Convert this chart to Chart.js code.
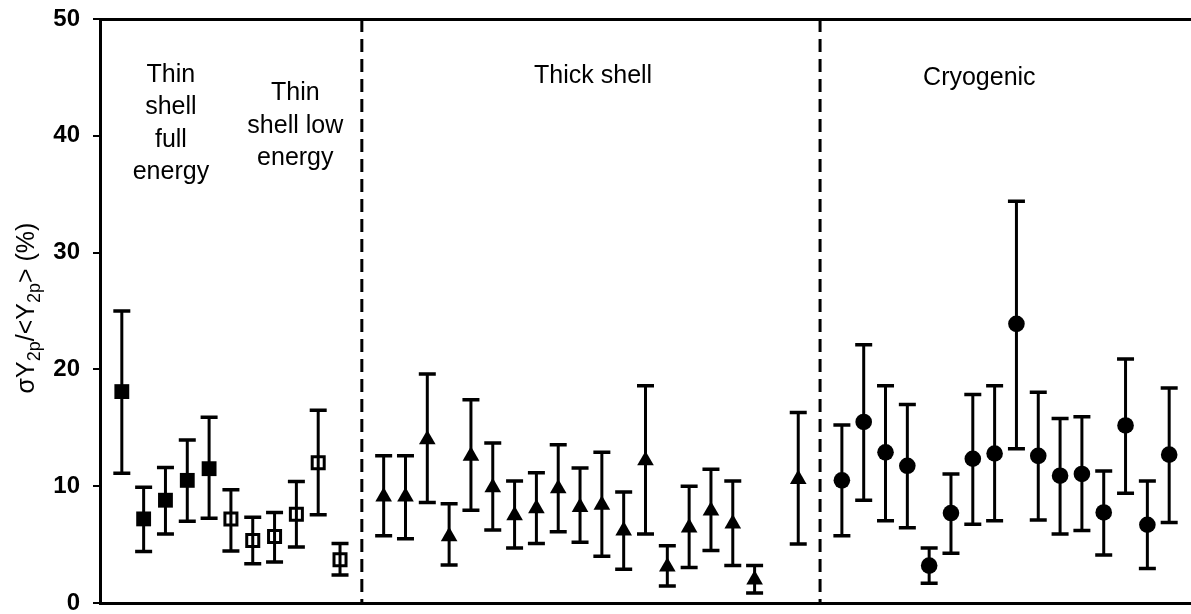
<!DOCTYPE html>
<html><head><meta charset="utf-8">
<script src="https://cdn.jsdelivr.net/npm/chart.js@4.4.1/dist/chart.umd.min.js"></script>
<style>html,body{margin:0;padding:0;background:#fff;overflow:hidden;} #wrap{width:1191px;height:614px;position:relative;}</style>
</head><body><div id="wrap"><canvas id="c" width="1191" height="614"></canvas></div>
<script>
// ---- data ----
const yTicks = [0, 10, 20, 30, 40, 50];

const thinFullX  = [1, 2, 3, 4, 5];
const thinFullY  = [18.1, 7.2, 8.8, 10.5, 11.5];
const thinFullLo = [11.1, 4.4, 5.9, 7.0, 7.25];
const thinFullHi = [25.0, 9.9, 11.6, 13.95, 15.9];

const thinLowX  = [6, 7, 8, 9, 10, 11];
const thinLowY  = [7.2, 5.35, 5.7, 7.6, 12.0, 3.7];
const thinLowLo = [4.45, 3.35, 3.5, 4.8, 7.55, 2.4];
const thinLowHi = [9.7, 7.35, 7.75, 10.4, 16.5, 5.1];

const thickX  = [13, 14, 15, 16, 17, 18, 19, 20, 21, 22, 23, 24, 25, 26, 27, 28, 29, 30, 32];
const thickY  = [9.1, 9.1, 14.0, 5.7, 12.6, 9.9, 7.5, 8.1, 9.8, 8.2, 8.4, 6.2, 12.2, 3.1, 6.45, 7.9, 6.8, 2.0, 10.6];
const thickLo = [5.75, 5.5, 8.6, 3.25, 7.95, 6.25, 4.7, 5.1, 6.1, 5.2, 4.0, 2.9, 5.9, 1.45, 3.05, 4.5, 3.2, 0.85, 5.05];
const thickHi = [12.6, 12.6, 19.6, 8.5, 17.4, 13.7, 10.45, 11.15, 13.55, 11.55, 12.9, 9.5, 18.6, 4.9, 10.0, 11.45, 10.45, 3.2, 16.3];

const cryoX  = [34, 35, 36, 37, 38, 39, 40, 41, 42, 43, 44, 45, 46, 47, 48, 49];
const cryoY  = [10.5, 15.5, 12.9, 11.75, 3.2, 7.7, 12.35, 12.8, 23.9, 12.6, 10.9, 11.05, 7.75, 15.2, 6.7, 12.7];
const cryoLo = [5.75, 8.8, 7.05, 6.45, 1.7, 4.25, 6.75, 7.05, 13.2, 7.1, 5.9, 6.2, 4.1, 9.4, 2.95, 6.9];
const cryoHi = [15.25, 22.1, 18.6, 17.0, 4.7, 11.05, 17.85, 18.6, 34.4, 18.05, 15.8, 15.95, 11.3, 20.9, 10.45, 18.4];

const dividerX = [12, 33];

const labelThinFull = ['Thin', 'shell', 'full', 'energy'];
const labelThinLow  = ['Thin', 'shell low', 'energy'];
const labelThick    = ['Thick shell'];
const labelCryo     = ['Cryogenic'];
const yTitleParts   = [['σY', 0], ['2p', 1], ['/<Y', 0], ['2p', 1], ['> (%)', 0]];

// ---- helpers ----
const FONT = '"Liberation Sans", Arial, Helvetica, sans-serif';
const pts = (xs, ys) => xs.map((x, i) => ({ x: x, y: ys[i] }));

const datasets = [];
dividerX.forEach(dx => datasets.push({
  type: 'line', data: [{ x: dx, y: 50 }, { x: dx, y: 0 }],
  borderColor: '#000', borderWidth: 3, borderDash: [13, 7], pointRadius: 0, fill: false
}));
datasets.push({ data: pts(thinFullX, thinFullY), lo: thinFullLo, hi: thinFullHi,
  pointStyle: 'rect', pointRadius: 10.5, backgroundColor: '#000', borderColor: '#000', borderWidth: 0 });
datasets.push({ data: pts(thinLowX, thinLowY), lo: thinLowLo, hi: thinLowHi,
  pointStyle: 'rect', pointRadius: 8.5, backgroundColor: '#fff', borderColor: '#000', borderWidth: 3 });
datasets.push({ data: pts(thickX, thickY), lo: thickLo, hi: thickHi,
  pointStyle: 'triangle', pointRadius: 9.6, backgroundColor: '#000', borderColor: '#000', borderWidth: 0 });
datasets.push({ data: pts(cryoX, cryoY), lo: cryoLo, hi: cryoHi,
  pointStyle: 'circle', pointRadius: 8.3, backgroundColor: '#000', borderColor: '#000', borderWidth: 0 });

const errorBars = {
  id: 'errorBars',
  afterDatasetsDraw(chart) {
    const { ctx, scales: { x, y } } = chart;
    ctx.save();
    ctx.strokeStyle = '#000';
    chart.data.datasets.forEach(ds => {
      if (!ds.lo) return;
      ds.data.forEach((p, i) => {
        const px = x.getPixelForValue(p.x);
        const yl = y.getPixelForValue(ds.lo[i]);
        const yh = y.getPixelForValue(ds.hi[i]);
        ctx.lineWidth = 3;
        ctx.beginPath();
        ctx.moveTo(px, yl); ctx.lineTo(px, yh);
        ctx.stroke();
        ctx.lineWidth = 3.5;
        ctx.beginPath();
        ctx.moveTo(px - 8.5, yl); ctx.lineTo(px + 8.5, yl);
        ctx.moveTo(px - 8.5, yh); ctx.lineTo(px + 8.5, yh);
        ctx.stroke();
      });
    });
    ctx.restore();
  }
};

const texts = {
  id: 'texts',
  afterDraw(chart) {
    const { ctx, chartArea, scales: { x } } = chart;
    ctx.save();
    ctx.fillStyle = '#000';
    ctx.font = '25px ' + FONT;
    ctx.textAlign = 'center';
    ctx.textBaseline = 'alphabetic';
    const groups = [
      { lines: labelThinFull, at: 3.25, top: 62.7 },
      { lines: labelThinLow, at: 8.95, top: 81 },
      { lines: labelThick, at: 22.6, top: 64 },
      { lines: labelCryo, at: 40.3, top: 66 }
    ];
    groups.forEach(g => g.lines.forEach((ln, i) =>
      ctx.fillText(ln, x.getPixelForValue(g.at), chartArea.top + g.top + i * 32.5)));
    // y-axis title with subscripts
    const main = '25px ' + FONT, sub = '18px ' + FONT;
    ctx.translate(34, (chartArea.top + chartArea.bottom) / 2 - 3);
    ctx.rotate(-Math.PI / 2);
    ctx.textAlign = 'left';
    let total = 0;
    yTitleParts.forEach(p => { ctx.font = p[1] ? sub : main; total += ctx.measureText(p[0]).width; });
    let cx = -total / 2;
    yTitleParts.forEach(p => {
      ctx.font = p[1] ? sub : main;
      ctx.fillText(p[0], cx, p[1] ? 6 : 0);
      cx += ctx.measureText(p[0]).width;
    });
    ctx.restore();
  }
};

new Chart(document.getElementById('c'), {
  type: 'scatter',
  data: { datasets: datasets },
  options: {
    responsive: false, animation: false, devicePixelRatio: 1,
    layout: { autoPadding: false, padding: { top: 19, bottom: 11, left: 0, right: 0 } },
    plugins: { legend: { display: false }, tooltip: { enabled: false } },
    scales: {
      x: {
        type: 'linear', min: 0, max: 50, position: 'bottom',
        ticks: { display: false }, grid: { display: false },
        border: { display: true, color: '#000', width: 3 },
        afterFit: s => { s.height = 0; }
      },
      xTop: {
        type: 'linear', min: 0, max: 50, position: 'top',
        ticks: { display: false }, grid: { display: false },
        border: { display: true, color: '#000', width: 3 },
        afterFit: s => { s.height = 0; }
      },
      y: {
        min: 0, max: 50,
        afterBuildTicks: s => { s.ticks = yTicks.map(v => ({ value: v })); },
        ticks: { color: '#000', padding: 13, font: { family: FONT, size: 24, weight: 'bold' } },
        grid: { drawOnChartArea: false, drawTicks: true, tickLength: 7, color: '#000', lineWidth: 2 },
        border: { display: true, color: '#000', width: 3 },
        afterFit: s => { s.width = 100; s.paddingTop = 0; s.paddingBottom = 0; }
      }
    }
  },
  plugins: [errorBars, texts]
});
</script></body></html>
